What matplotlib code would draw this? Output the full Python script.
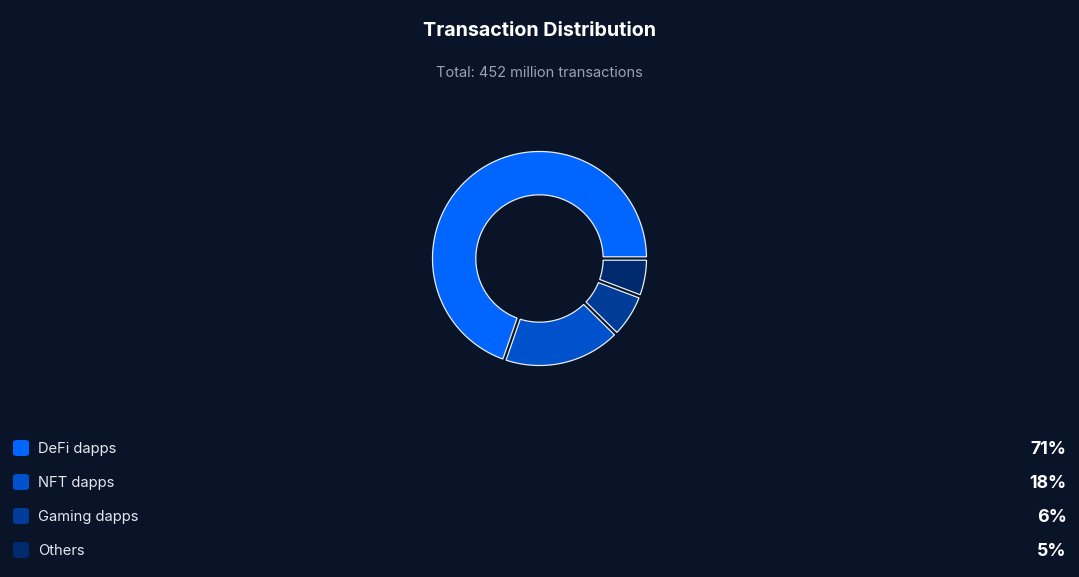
import numpy as np
import matplotlib.pyplot as plt
from matplotlib.patches import FancyBboxPatch

plt.rcParams['font.family'] = ['Inter', 'DejaVu Sans']

# data
categories = ['DeFi dapps', 'NFT dapps', 'Gaming dapps', 'Others']
tx_millions = [315, 81, 30, 26]   # slice sizes (sum = 452 million)
pct_labels = [71, 18, 6, 5]       # percentages shown in the legend
colors = ['#0066ff', '#0052cc', '#003d99', '#002a6e']
title = 'Transaction Distribution'
subtitle = 'Total: 452 million transactions'

bg = '#0a1429'
W, H = 1079, 577
fig = plt.figure(figsize=(W/100, H/100), dpi=100, facecolor=bg)

fig.text(0.5, 1-31/H, title, ha='center', va='center', color='white',
         fontsize=14.2, fontweight='bold')
fig.text(0.5, 1-73/H, subtitle, ha='center', va='center', color='#9aa3b2',
         fontsize=10.5)

# donut axes: radius 1 = 107 px
R_px = 107
half = 120
cx, cy = 539.5, 258.5
ax = fig.add_axes([(cx-half)/W, 1-(cy+half)/H, 2*half/W, 2*half/H])
ax.set_facecolor(bg)
ax.set_xlim(-half/R_px, half/R_px)
ax.set_ylim(-half/R_px, half/R_px)
ax.set_aspect('equal')
ax.axis('off')

r_out, r_in = 1.0, 0.595
gap = 1.7/R_px  # half gap, parallel spacing between slices
bounds = np.concatenate([[0], np.cumsum(tx_millions)]) / sum(tx_millions) * 2*np.pi
for i in range(len(tx_millions)):
    a1, a2 = bounds[i], bounds[i+1]
    to = np.linspace(a1 + np.arcsin(gap/r_out), a2 - np.arcsin(gap/r_out), 200)
    ti = np.linspace(a2 - np.arcsin(gap/r_in), a1 + np.arcsin(gap/r_in), 200)
    xs = np.concatenate([r_out*np.cos(to), r_in*np.cos(ti)])
    ys = np.concatenate([r_out*np.sin(to), r_in*np.sin(ti)])
    ax.fill(xs, ys, facecolor=colors[i], edgecolor='#e8ecf3', linewidth=0.9,
            joinstyle='miter')

# legend rows
for i, (lab, p) in enumerate(zip(categories, pct_labels)):
    y = 448 + 34*i
    box = FancyBboxPatch((13/W, 1-(y+8)/H), 16/W, 16/H,
                         boxstyle='round,pad=0,rounding_size=0.004',
                         transform=fig.transFigure, facecolor=colors[i],
                         edgecolor='none')
    fig.patches.append(box)
    fig.text(38/W, 1-(y+1)/H, lab, ha='left', va='center', color='#e3e7ee',
             fontsize=10.6)
    fig.text(1066.5/W, 1-(y+1.5)/H, f'{p}%', ha='right', va='center', color='white',
             fontsize=12.8, fontweight='bold')

fig.savefig('out.png', dpi=100, facecolor=bg)
